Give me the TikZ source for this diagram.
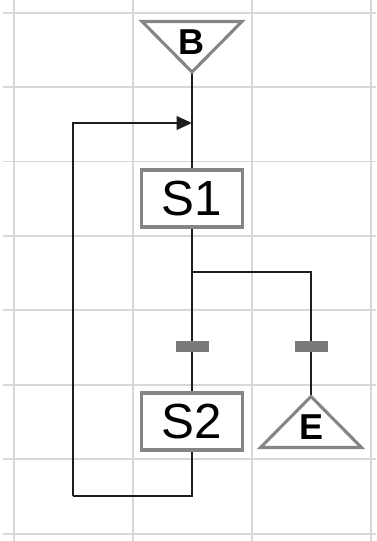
\documentclass[tikz,border=0pt]{standalone}
\usepackage{fontspec}
\setmainfont{Liberation Sans}
\usetikzlibrary{arrows.meta}
\definecolor{gridgray}{HTML}{D8D8D8}
\definecolor{linecol}{HTML}{1E1E1E}
\definecolor{boxgray}{HTML}{858585}
\definecolor{bargray}{HTML}{7A7A7A}
\begin{document}
\begin{tikzpicture}[x=0.75pt,y=-0.75pt,
  gridline/.style={draw=gridgray, line width=1.1pt},
  conn/.style={draw=linecol, line width=2pt},
  stepbox/.style={draw=boxgray, line width=2.3pt, fill=white, minimum width=75.75pt,
    minimum height=42.75pt, inner sep=0pt, font=\fontsize{37}{40}\selectfont},
  termtri/.style={draw=boxgray, line width=2.3pt, fill=white, line join=miter},
  bar/.style={fill=bargray, draw=none, minimum width=24.75pt, minimum height=8.5pt, inner sep=0pt},
  lbl/.style={font=\bfseries\fontsize{27}{30}\selectfont, inner sep=0pt, text=black}
]
\useasboundingbox[fill=white] (0,0) rectangle (376,541);
% grid
\foreach \yy in {13,87,161.5,236,310,385,459,534}
  \draw[gridline] (3,\yy) -- (376,\yy);
\foreach \xx in {14,133,252,371}
  \draw[gridline] (\xx,0) -- (\xx,541);

% coordinates
\coordinate (Bapex) at (192,72);
\coordinate (J) at (192,272);
\coordinate (JR) at (311,272);
\coordinate (Eapex) at (311,396.5);
\coordinate (L2) at (73,496);
\coordinate (A) at (192,123);

% connectors (drawn first, boxes on top)
\draw[conn] (Bapex) -- (192,170);
\draw[conn] (192,226) -- (192,392);
\draw[conn] (J) -- (JR) -- (Eapex);
\draw[conn] (192,450) |- (L2);
\draw[conn, -{Triangle[length=11.5pt,width=10pt]}] (L2) |- (A);

% start triangle B
\draw[termtri] (142,21.5) -- (242,21.5) -- (Bapex) -- cycle;
\node[lbl] (B) at (191,42) {B};

% steps
\node[stepbox] (S1) at (192,198.5) {S1};
\node[stepbox] (S2) at (192,421.5) {S2};

% transitions
\node[bar] (T1) at (192.5,346.5) {};
\node[bar] (T2) at (311,346.5) {};

% end triangle E
\draw[termtri] (Eapex) -- (361.5,447.5) -- (260.5,447.5) -- cycle;
\node[lbl] (E) at (311,427) {E};
\end{tikzpicture}
\end{document}
